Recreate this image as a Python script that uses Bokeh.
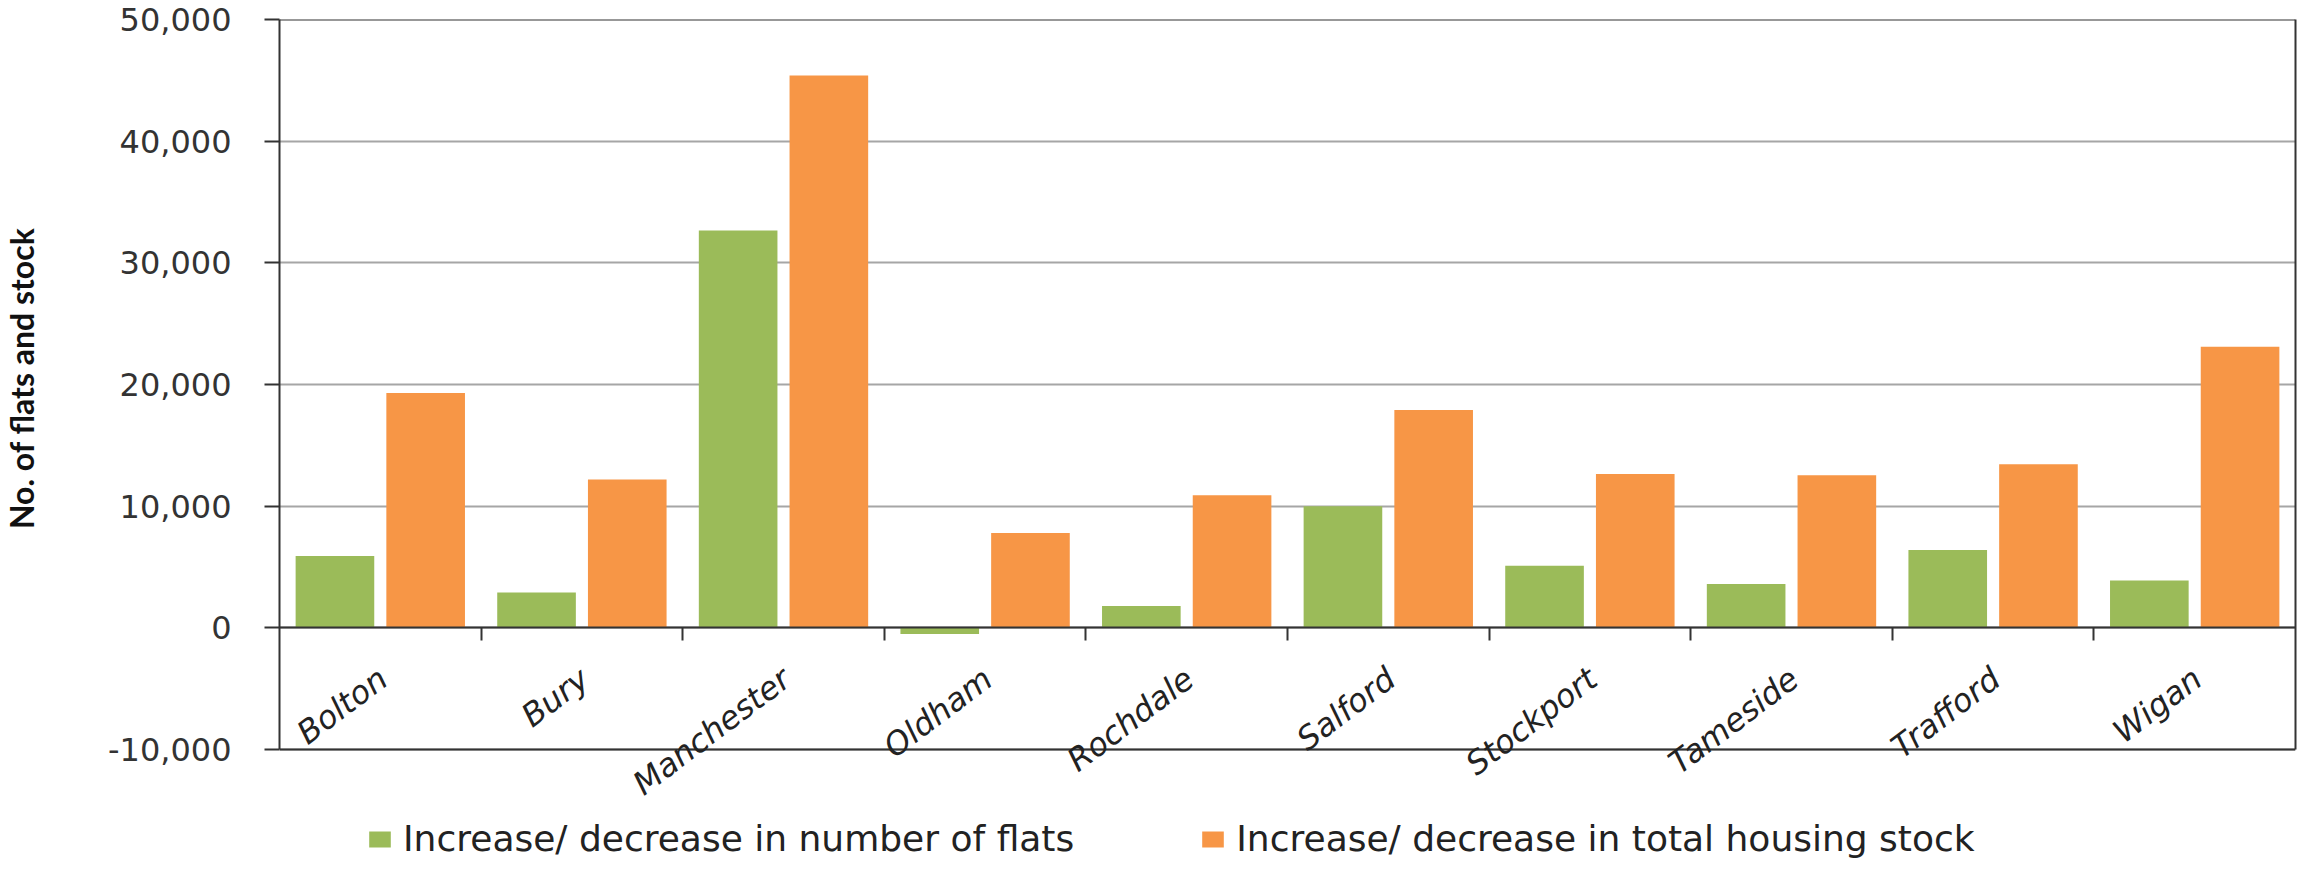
import math
from bokeh.plotting import figure
from bokeh.layouts import row
from bokeh.models import (Range1d, FixedTicker, NumeralTickFormatter, LinearAxis, Legend,
                          LegendItem, ColumnDataSource, CustomJSTickFormatter, LabelSet, Span)
from bokeh.transform import dodge
from bokeh.core.properties import value
from bokeh.embed import file_html
from bokeh.resources import INLINE

# ---- data ----
cities = ["Bolton", "Bury", "Manchester", "Oldham", "Rochdale",
          "Salford", "Stockport", "Tameside", "Trafford", "Wigan"]
flats_change = [5900, 2900, 32650, -500, 1800, 10000, 5100, 3600, 6400, 3900]
stock_change = [19300, 12200, 45400, 7800, 10900, 17900, 12650, 12550, 13450, 23100]
y_ticks = [-10000, 0, 10000, 20000, 30000, 40000, 50000]
series_names = ["Increase/ decrease in number of flats",
                "Increase/ decrease in total housing stock"]
series_colors = ["#9BBB59", "#F79646"]
y_title = "No. of flats and stock"

# ---- layout (pixels) ----
W, H = 2302, 859
TW = 42                   # strip holding the vertical axis title
TITLE_Y = 367             # title centre, px from top
TOP, LEFT, RIGHT = 19, 279 - TW, 7
PLOT_PX = 730             # pixel height of the -10,000 .. 50,000 box
y_min, y_max = y_ticks[0], y_ticks[-1]
units_per_px = (y_max - y_min) / PLOT_PX
y_lo = y_min - (H - TOP - PLOT_PX) * units_per_px   # frame extends down to hold labels and legend

DARK = "#333333"

# ---- title strip ----
t = figure(width=TW, height=H, output_backend="svg", toolbar_location=None,
           x_range=Range1d(0, TW), y_range=Range1d(0, H),
           x_axis_location=None, y_axis_location=None,
           min_border_left=0, min_border_right=0, min_border_top=0, min_border_bottom=0)
t.outline_line_color = None
t.grid.visible = False
t.text(x=[TW / 2], y=[H - TITLE_Y], text=[y_title], angle=math.pi / 2,
       text_align="center", text_baseline="middle",
       text_font=value("Lato"), text_font_style="bold", text_font_size="32px",
       text_color="#111111")

# ---- main chart ----
n = len(cities)
centers = [i + 0.5 for i in range(n)]
boundaries = [float(i) for i in range(1, n)]

src = ColumnDataSource(dict(x=centers, city=cities, flats=flats_change, stock=stock_change))

p = figure(width=W - TW, height=H, output_backend="svg", toolbar_location=None,
           x_range=Range1d(0, n), y_range=Range1d(y_lo, y_max),
           x_axis_location=None, y_axis_location="left",
           min_border_left=LEFT, min_border_right=RIGHT, min_border_top=TOP, min_border_bottom=0)

p.background_fill_color = "white"
p.border_fill_color = "white"
p.outline_line_color = None

# gridlines
p.ygrid.ticker = FixedTicker(ticks=y_ticks)
p.ygrid.grid_line_color = "#A6A6A6"
p.ygrid.grid_line_width = 2
p.xgrid.visible = False

# bars
r1 = p.vbar(x=dodge("x", -0.225, range=p.x_range), top="flats", width=0.39, source=src,
            fill_color=series_colors[0], line_color=None)
r2 = p.vbar(x=dodge("x", 0.225, range=p.x_range), top="stock", width=0.39, source=src,
            fill_color=series_colors[1], line_color=None)

# box top / bottom edges
for loc in (y_min, y_max):
    p.add_layout(Span(location=loc, dimension="width", line_color=DARK, line_width=2))

# y axis
ya = p.yaxis[0]
ya.bounds = (y_min, y_max)
ya.ticker = FixedTicker(ticks=y_ticks)
ya.formatter = NumeralTickFormatter(format="0,0")
ya.major_tick_out = 15
ya.major_tick_in = 0
ya.minor_tick_out = 0
ya.minor_tick_in = 0
ya.axis_line_color = DARK
ya.axis_line_width = 2
ya.major_tick_line_color = DARK
ya.major_tick_line_width = 2
ya.major_label_standoff = 33
ya.major_label_text_font = "DejaVu Sans"
ya.major_label_text_font_size = "32px"
ya.major_label_text_color = DARK

# right edge of the box
ra = LinearAxis(bounds=(y_min, y_max), ticker=FixedTicker(ticks=[]),
                formatter=CustomJSTickFormatter(code="return '';"))
ra.axis_line_color = DARK
ra.axis_line_width = 2
ra.major_tick_out = 0
ra.major_tick_in = 0
ra.minor_tick_out = 0
ra.minor_tick_in = 0
p.add_layout(ra, "right")

# category axis line crossing at y = 0, ticks at category boundaries
xa = LinearAxis(fixed_location=0,
                ticker=FixedTicker(ticks=boundaries),
                formatter=CustomJSTickFormatter(code="return '';"))
xa.major_tick_out = 13
xa.major_tick_in = 0
xa.minor_tick_out = 0
xa.minor_tick_in = 0
xa.major_tick_line_color = DARK
xa.major_tick_line_width = 2
xa.axis_line_color = DARK
xa.axis_line_width = 2
p.add_layout(xa, "below")

# category labels hanging below the zero line
cat_labels = LabelSet(x="x", y=0, text="city", source=src,
                      angle=math.radians(37), text_align="right", text_baseline="middle",
                      x_offset=3, y_offset=-47,
                      text_font=value("DejaVu Sans"), text_font_style="italic",
                      text_font_size="32px", text_color="#222222")
p.add_layout(cat_labels)

legend = Legend(items=[LegendItem(label=series_names[0], renderers=[r1]),
                       LegendItem(label=series_names[1], renderers=[r2])],
                orientation="horizontal", location=(87, 0),
                glyph_width=27, glyph_height=20, label_standoff=10, spacing=125,
                padding=0, margin=0, border_line_color=None, background_fill_alpha=0,
                label_text_font="DejaVu Sans", label_text_font_size="36px",
                label_text_color="#222222")
p.add_layout(legend, "center")

layout = row(t, p, spacing=0)
open("out.html", "w").write(file_html(layout, INLINE))
